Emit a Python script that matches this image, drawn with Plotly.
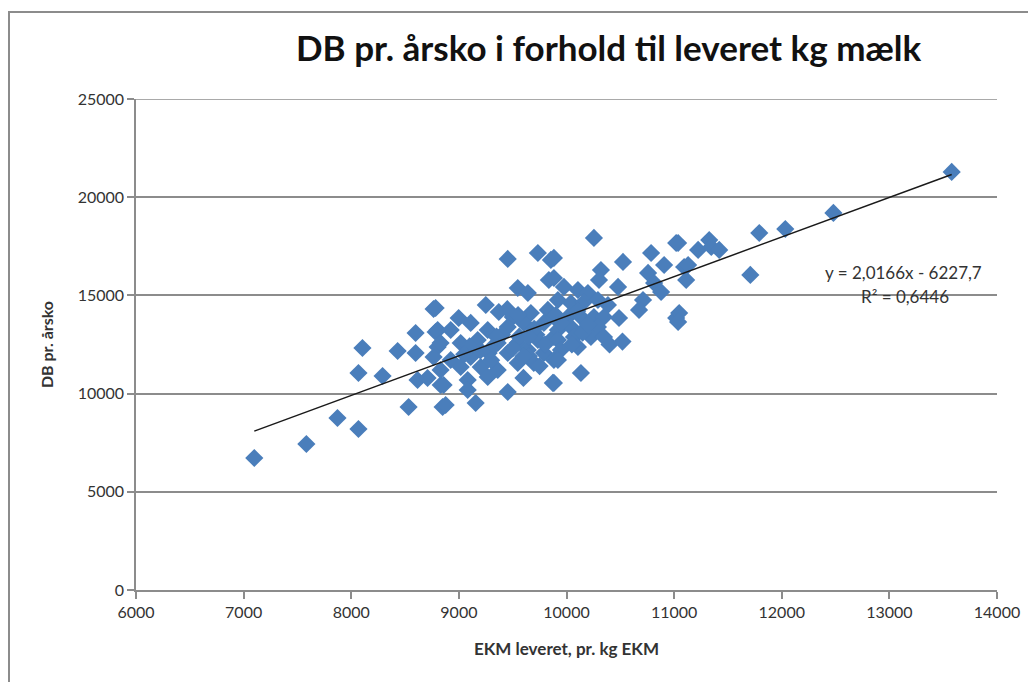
import plotly.graph_objects as go
import numpy as np

# Data (x = EKM leveret, y = DB pr. årsko)
ekm = [7099, 7583, 7872, 8067, 8067, 8104, 8291, 8431, 8533, 8598, 8598, 8616, 8709, 8765, 8784, 8803, 8849, 8831,
       9454, 9734, 9855, 9836, 9547, 9641, 8784, 9250, 8998, 9371, 9501, 9669, 9827, 8803, 8924, 9110, 9268, 9454,
       9603, 9790, 8830, 9017, 9175, 9361, 9547, 9734, 9883, 8765, 8924, 9110, 9277, 9454, 9641, 9790, 8830, 9017,
       9203, 9361, 9547, 9696, 9883, 8858, 9082, 9268, 9454, 9873, 8877, 9156, 9082,
       10255, 9883, 10525, 10786, 10907, 11019, 10320, 10302, 10479, 10758, 10814, 9883, 9976, 10106, 10199, 9920,
       10041, 10162, 10292, 10385, 10711, 10879, 10674, 11019, 9883, 10013, 10134, 10255, 10348, 10488, 9920, 10041,
       10162, 10292, 9920, 10069, 10227, 10348, 9948, 10106, 9920, 10134, 9883,
       13579, 12480, 11791, 12033, 11037, 11223, 11326, 11345, 11419, 11093, 11112, 11708, 11047, 11037, 11130,
       10400, 10520, 9560, 9720, 9300, 9650, 10150,
       9400, 9500, 9600, 9700, 9800, 9300, 9200, 9100, 9950, 10050, 9650, 9450, 9550, 9350, 9750, 10200, 9050, 9900,
       10100, 9600]
db = [6721, 7434, 8758, 8198, 11049, 12322, 10896, 12169, 9318, 13086, 12067, 10692, 10794, 14308, 13136, 12373, 9318, 10438,
      16855, 17160, 16804, 15785, 15378, 15123, 14359, 14512, 13850, 14156, 13901, 14105, 14258, 13239, 13239, 13596, 13239, 13392,
      13596, 13596, 12577, 12577, 12730, 12577, 12577, 12730, 12883, 11864, 11712, 11864, 12068, 12068, 12221, 12068, 11202, 11355,
      11355, 11202, 11559, 11559, 11712, 10439, 10693, 10846, 10082, 10541, 9420, 9522, 10184,
      17924, 16906, 16702, 17160, 16549, 17669, 16294, 15785, 15429, 16142, 15632, 15887, 15429, 15276, 15123, 14767,
      14614, 14665, 14767, 14512, 14767, 15174, 14258, 13850, 13901, 13901, 13901, 13901, 13901, 13850, 13239, 13392,
      13239, 13392, 12730, 12883, 12883, 12883, 12221, 12374, 11712, 11050, 10541,
      21285, 19197, 18178, 18382, 17669, 17313, 17822, 17466, 17313, 16447, 15785, 16040, 14105, 13647, 16549,
      12500, 12650, 12900, 13000, 12300, 11900, 13100,
      13000, 12300, 11900, 13300, 12500, 11700, 12200, 12400, 13600, 12500, 12900, 14300, 14000, 12900, 11400, 13500,
      12000, 14000, 14200, 10800]

trend_slope = 2.0166
trend_intercept = -6227.7
eq_text = "y = 2,0166x - 6227,7"
r2_text = "R² = 0,6446"

title = "DB pr. årsko i forhold til leveret kg mælk"
x_title = "EKM leveret, pr. kg EKM"
y_title = "DB pr. årsko"

x_ticks = list(range(6000, 14001, 1000))
y_ticks = list(range(0, 25001, 5000))

FONT = "Lato, 'Open Sans', sans-serif"
GRID = "#8c8c8c"

tx = np.array([min(ekm), max(ekm)])
ty = trend_slope * tx + trend_intercept

fig = go.Figure()
fig.add_trace(go.Scatter(x=ekm, y=db, mode="markers",
                         marker=dict(symbol="diamond", size=14, color="#4A7EBB"),
                         showlegend=False, hoverinfo="x+y"))
fig.add_trace(go.Scatter(x=tx, y=ty, mode="lines",
                         line=dict(color="#1a1a1a", width=1.5),
                         showlegend=False, hoverinfo="skip"))

OFF = 8  # page body margin in the browser
W, H = 1036, 682
L, T = 128, 91
pw, ph = 861, 491
R = W - L - pw
B = H - T - ph

def px(xp):
    return (xp - OFF - L) / pw

def py(yp):
    return (OFF + T + ph - yp) / ph

fig.update_layout(
    width=W, height=H,
    margin=dict(l=L, r=R, t=T, b=B, autoexpand=False),
    paper_bgcolor="white", plot_bgcolor="white",
    font=dict(family=FONT, color="#333333", size=16),
    xaxis=dict(range=[6000, 14000], tickvals=x_ticks, ticktext=[str(v) for v in x_ticks],
               automargin=False,
               showgrid=False, zeroline=False, showline=True, linecolor=GRID, linewidth=1.5,
               ticks="outside", ticklen=7, tickcolor=GRID, tickwidth=1.5,
               tickfont=dict(family=FONT, size=16, color="#333333"),
               title=dict(text="<b>" + x_title + "</b>", font=dict(family=FONT, size=17, color="#333333"), standoff=23)),
    yaxis=dict(range=[0, 25000], tickvals=y_ticks, ticktext=[str(v) for v in y_ticks],
               automargin=False,
               showgrid=True, gridcolor=GRID, gridwidth=1.5, zeroline=False,
               showline=True, linecolor=GRID, linewidth=1.5,
               ticks="outside", ticklen=7, tickcolor=GRID, tickwidth=1.5,
               tickfont=dict(family=FONT, size=16, color="#333333"),
               title=dict(text="<b>" + y_title + "</b>", font=dict(family=FONT, size=16, color="#333333"), standoff=20)),
    annotations=[
        dict(text="<b>" + title + "</b>", x=px(609), y=py(47), xref="paper", yref="paper",
             showarrow=False, font=dict(family=FONT, size=35, color="#111111"), xanchor="center", yanchor="middle"),
        dict(text=eq_text, x=px(903), y=py(272), xref="paper", yref="paper", showarrow=False,
             font=dict(family=FONT, size=17, color="#333333"), xanchor="center", yanchor="middle"),
        dict(text=r2_text, x=px(905), y=py(296), xref="paper", yref="paper", showarrow=False,
             font=dict(family=FONT, size=17, color="#333333"), xanchor="center", yanchor="middle"),
    ],
    shapes=[
        dict(type="rect", xref="paper", yref="paper", x0=px(9), y0=py(700), x1=px(1060), y1=py(12),
             line=dict(color=GRID, width=2), layer="below"),
        dict(type="line", xref="paper", yref="y", x0=0, x1=1, y0=y_ticks[-1], y1=y_ticks[-1],
             line=dict(color=GRID, width=1.5), layer="below"),
    ],
)

fig.write_html("out.html")
